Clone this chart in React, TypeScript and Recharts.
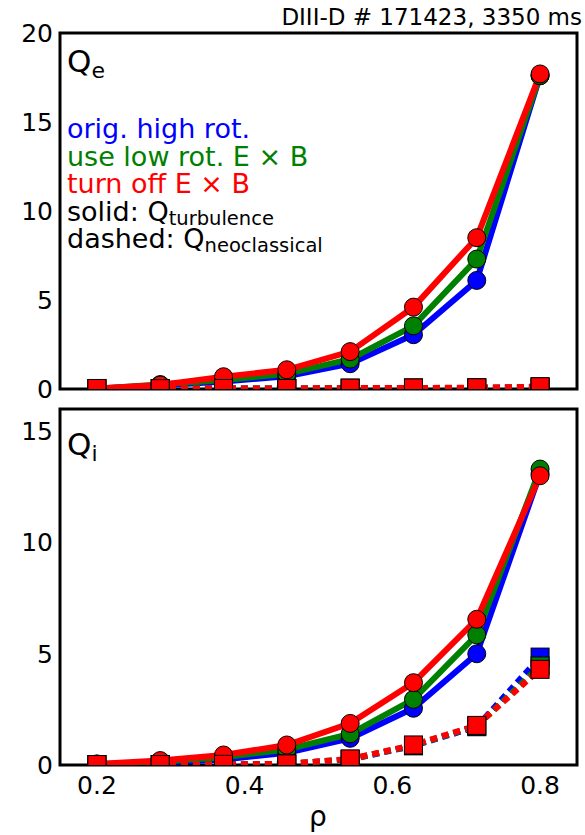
import React from "react";
import {
  LineChart,
  Line,
  XAxis,
  YAxis,
  ReferenceArea,
} from "recharts";

// normalized radius grid
const rho = [0.2, 0.2857, 0.3714, 0.4571, 0.5429, 0.6286, 0.7143, 0.8];

// electron heat flux
const qeTurbHigh = [0.02, 0.2, 0.42, 0.72, 1.42, 3.05, 6.1, 17.6];
const qeTurbLow = [0.02, 0.25, 0.5, 0.85, 1.68, 3.55, 7.3, 17.6];
const qeTurbOff = [0.03, 0.22, 0.69, 1.08, 2.1, 4.6, 8.5, 17.7];
const qeNeoHigh = [0.02, 0.02, 0.03, 0.03, 0.04, 0.05, 0.06, 0.1];
const qeNeoLow = [0.02, 0.02, 0.03, 0.03, 0.04, 0.05, 0.06, 0.1];
const qeNeoOff = [0.03, 0.02, 0.03, 0.03, 0.05, 0.06, 0.07, 0.13];

// ion heat flux
const qiTurbHigh = [0.02, 0.1, 0.25, 0.55, 1.2, 2.55, 5.0, 13.1];
const qiTurbLow = [0.03, 0.15, 0.35, 0.7, 1.4, 2.95, 5.85, 13.3];
const qiTurbOff = [0.05, 0.2, 0.45, 0.9, 1.87, 3.7, 6.55, 13.0];
const qiNeoHigh = [0.02, 0.02, 0.03, 0.05, 0.25, 0.86, 1.72, 4.85];
const qiNeoLow = [0.02, 0.02, 0.03, 0.05, 0.26, 0.88, 1.75, 4.45];
const qiNeoOff = [0.02, 0.02, 0.03, 0.05, 0.27, 0.9, 1.78, 4.3];

const xTicks = [0.2, 0.4, 0.6, 0.8];
const qeTicks = [0, 5, 10, 15, 20];
const qiTicks = [0, 5, 10, 15];

const BLUE = "#0000ff";
const GREEN = "#008000";
const RED = "#ff0000";
const FONT = "DejaVu Sans, sans-serif";

const buildRows = (
  tHigh: number[], tLow: number[], tOff: number[],
  nHigh: number[], nLow: number[], nOff: number[]
) =>
  rho.map((r, i) => ({
    rho: r,
    tHigh: tHigh[i], tLow: tLow[i], tOff: tOff[i],
    nHigh: nHigh[i], nLow: nLow[i], nOff: nOff[i],
  }));

const qeRows = buildRows(qeTurbHigh, qeTurbLow, qeTurbOff, qeNeoHigh, qeNeoLow, qeNeoOff);
const qiRows = buildRows(qiTurbHigh, qiTurbLow, qiTurbOff, qiNeoHigh, qiNeoLow, qiNeoOff);

const squareDot = (color: string) => (props: any) => {
  const { cx, cy, index } = props;
  if (cx == null || cy == null) return <g key={`sq-${index}`} />;
  return (
    <rect
      key={`sq-${index}`}
      x={cx - 9}
      y={cy - 9}
      width={18}
      height={18}
      fill={color}
      stroke="#000"
      strokeWidth={1}
    />
  );
};

const circleDot = (color: string) => ({
  r: 9,
  fill: color,
  stroke: "#000",
  strokeWidth: 1,
  strokeDasharray: "",
});

const tickFont = { fill: "#000", fontSize: 25, fontFamily: FONT };

function Panel({
  rows,
  yMax,
  yTicks,
  height,
  margin,
  showX,
}: {
  rows: any[];
  yMax: number;
  yTicks: number[];
  height: number;
  margin: { top: number; right: number; bottom: number; left: number };
  showX: boolean;
}) {
  const series = [
    { color: BLUE, t: "tHigh", n: "nHigh" },
    { color: GREEN, t: "tLow", n: "nLow" },
    { color: RED, t: "tOff", n: "nOff" },
  ];
  return (
    <LineChart width={585} height={height} data={rows} margin={margin}>
      <XAxis
        xAxisId="main"
        dataKey="rho"
        type="number"
        domain={[0.15, 0.85]}
        allowDataOverflow
        ticks={xTicks}
        interval={0}
        tickFormatter={(v) => v.toFixed(1)}
        height={showX ? 70 : 0}
        tick={showX ? tickFont : false}
        tickLine={false}
        axisLine={false}
        tickSize={0}
        tickMargin={11}
      />
      <XAxis xAxisId="bot" dataKey="rho" type="number" domain={[0.15, 0.85]} allowDataOverflow
        ticks={xTicks} interval={0} orientation="bottom" mirror height={0} tick={false} axisLine={false}
        tickSize={5} tickLine={{ stroke: "#000", strokeWidth: 2 }} />
      <XAxis xAxisId="top" dataKey="rho" type="number" domain={[0.15, 0.85]} allowDataOverflow
        ticks={xTicks} interval={0} orientation="top" mirror height={0} tick={false} axisLine={false}
        tickSize={5} tickLine={{ stroke: "#000", strokeWidth: 2 }} />
      <YAxis
        yAxisId="main"
        type="number"
        domain={[0, yMax]}
        allowDataOverflow
        ticks={yTicks}
        interval={0}
        width={60}
        tick={tickFont}
        tickLine={false}
        axisLine={false}
        tickSize={0}
        tickMargin={7}
      />
      <YAxis yAxisId="left" type="number" domain={[0, yMax]} allowDataOverflow ticks={yTicks}
        interval={0} orientation="left" mirror width={0} tick={false} axisLine={false}
        tickSize={5} tickLine={{ stroke: "#000", strokeWidth: 2 }} />
      <YAxis yAxisId="right" type="number" domain={[0, yMax]} allowDataOverflow ticks={yTicks}
        interval={0} orientation="right" mirror width={0} tick={false} axisLine={false}
        tickSize={5} tickLine={{ stroke: "#000", strokeWidth: 2 }} />
      {series.flatMap((s) => [
        <Line
          key={s.t}
          xAxisId="main"
          yAxisId="main"
          dataKey={s.t}
          stroke={s.color}
          strokeWidth={6}
          dot={circleDot(s.color)}
          activeDot={false}
          isAnimationActive={false}
        />,
        <Line
          key={s.n}
          xAxisId="main"
          yAxisId="main"
          dataKey={s.n}
          stroke={s.color}
          strokeWidth={6}
          strokeDasharray="7 5"
          dot={squareDot(s.color)}
          activeDot={false}
          isAnimationActive={false}
        />,
      ])}
      <ReferenceArea
        xAxisId="main"
        yAxisId="main"
        x1={0.15}
        x2={0.85}
        y1={0}
        y2={yMax}
        fill="none"
        fillOpacity={0}
        stroke="#000"
        strokeWidth={3}
        ifOverflow="visible"
      />
    </LineChart>
  );
}

export default function App() {
  return (
    <div
      style={{
        position: "absolute",
        left: 0,
        top: 0,
        width: 585,
        height: 835,
        background: "#fff",
        fontFamily: FONT,
      }}
    >
      <div style={{ position: "absolute", left: 0, top: 0 }}>
        <Panel
          rows={qeRows}
          yMax={20}
          yTicks={qeTicks}
          height={404}
          margin={{ top: 33, right: 8, bottom: 15, left: 0 }}
          showX={false}
        />
      </div>
      <div style={{ position: "absolute", left: 0, top: 404 }}>
        <Panel
          rows={qiRows}
          yMax={16}
          yTicks={qiTicks}
          height={431}
          margin={{ top: 5, right: 8, bottom: 0, left: 0 }}
          showX={true}
        />
      </div>
      <svg
        width={585}
        height={835}
        style={{ position: "absolute", left: 0, top: 0, pointerEvents: "none" }}
        fontFamily={FONT}
      >
        <text x={582} y={25} fontSize={23} textAnchor="end" fill="#000">
          DIII-D # 171423, 3350 ms
        </text>
        <text x={67} y={72} fontSize={31} fill="#000">
          Q<tspan fontSize={22} dy={6}>e</tspan>
        </text>
        <text x={67} y={138} fontSize={27} fill={BLUE}>orig. high rot.</text>
        <text x={67} y={166} fontSize={27} fill={GREEN}>use low rot. E × B</text>
        <text x={67} y={193} fontSize={27} fill={RED}>turn off E × B</text>
        <text x={67} y={221} fontSize={27} fill="#000">
          solid: Q<tspan fontSize={19.5} dy={4}>turbulence</tspan>
        </text>
        <text x={67} y={248} fontSize={27} fill="#000">
          dashed: Q<tspan fontSize={19.5} dy={4}>neoclassical</tspan>
        </text>
        <text x={67} y={455} fontSize={31} fill="#000">
          Q<tspan fontSize={22} dy={6}>i</tspan>
        </text>
        <text x={318} y={826} fontSize={28} textAnchor="middle" fill="#000">
          ρ
        </text>
      </svg>
    </div>
  );
}
